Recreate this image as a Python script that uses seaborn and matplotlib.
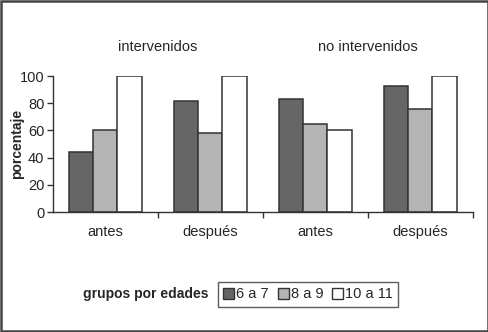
import matplotlib
matplotlib.use("Agg")
import matplotlib.pyplot as plt
import seaborn as sns
import pandas as pd
from matplotlib.patches import Rectangle
from matplotlib.ticker import FixedLocator

# datos
grupos = ["intervenidos", "no intervenidos"]
momentos = ["antes", "después"]
edades = ["6 a 7", "8 a 9", "10 a 11"]
v_6a7 = [44, 82, 83, 93]
v_8a9 = [60, 58, 65, 76]
v_10a11 = [100, 100, 60, 100]
colores = ["#666666", "#b4b4b4", "#ffffff"]

claves = [f"{g}|{m}" for g in grupos for m in momentos]
filas = []
for edad, vals in zip(edades, [v_6a7, v_8a9, v_10a11]):
    for k, v in zip(claves, vals):
        filas.append({"cat": k, "edad": edad, "pct": v})
df = pd.DataFrame(filas)

sns.set_style("white")
plt.rcParams["font.family"] = ["Liberation Sans", "DejaVu Sans"]

fig = plt.figure(figsize=(4.89, 3.32), dpi=100)
ax = fig.add_axes([0.108, 0.361, 0.859, 0.410])

sns.barplot(data=df, x="cat", y="pct", hue="edad", order=claves,
            hue_order=edades, palette=colores, width=0.69,
            edgecolor="#333333", linewidth=1.1, ax=ax, legend=False)

ax.set_ylim(0, 100)
ax.set_xlim(-0.5, len(claves) - 0.5)
ax.set_yticks([0, 20, 40, 60, 80, 100])
ax.tick_params(axis="y", labelsize=10.5, length=4, width=1, color="#333333",
               direction="out", left=True, pad=2)
ax.set_xticks(range(len(claves)))
ax.set_xticklabels([c.split("|")[1] for c in claves], fontsize=10.5)
ax.tick_params(axis="x", which="major", length=0, pad=9)
ax.xaxis.set_minor_locator(FixedLocator([0.5, 1.5, 2.5, 3.5]))
ax.tick_params(axis="x", which="minor", length=4, width=1, color="#333333",
               direction="out", bottom=True)
ax.set_xlabel("")
ax.set_ylabel("porcentaje", fontsize=10, fontweight="bold", labelpad=-3)
for s in ["top", "right"]:
    ax.spines[s].set_visible(False)
for s in ["left", "bottom"]:
    ax.spines[s].set_color("#333333")
    ax.spines[s].set_linewidth(1)

# títulos de grupo
for i, g in enumerate(grupos):
    xc = 2 * i + 0.5
    xf = fig.transFigure.inverted().transform(ax.transData.transform((xc, 0)))[0]
    fig.text(xf, 0.858, g, ha="center", va="center", fontsize=10.5)

# leyenda
handles = [Rectangle((0, 0), 1, 1, facecolor=c, edgecolor="#333333", linewidth=1)
           for c in colores]
leg = fig.legend(handles, edades, loc="center left", bbox_to_anchor=(0.446, 0.113),
                 ncol=3, fontsize=10.5, frameon=True, fancybox=False,
                 handlelength=0.75, handleheight=0.75, handletextpad=0.15,
                 columnspacing=0.6, borderpad=0.35, borderaxespad=0)
leg.get_frame().set_edgecolor("#333333")
leg.get_frame().set_linewidth(1)
fig.text(0.427, 0.113, "grupos por edades", ha="right", va="center",
         fontsize=10, fontweight="bold")

# marco exterior
fig.patches.append(Rectangle((0.003, 0.004), 0.994, 0.992, transform=fig.transFigure,
                             fill=False, edgecolor="#444444", linewidth=1.8))

fig.savefig("out.png", dpi=100, facecolor="white")
